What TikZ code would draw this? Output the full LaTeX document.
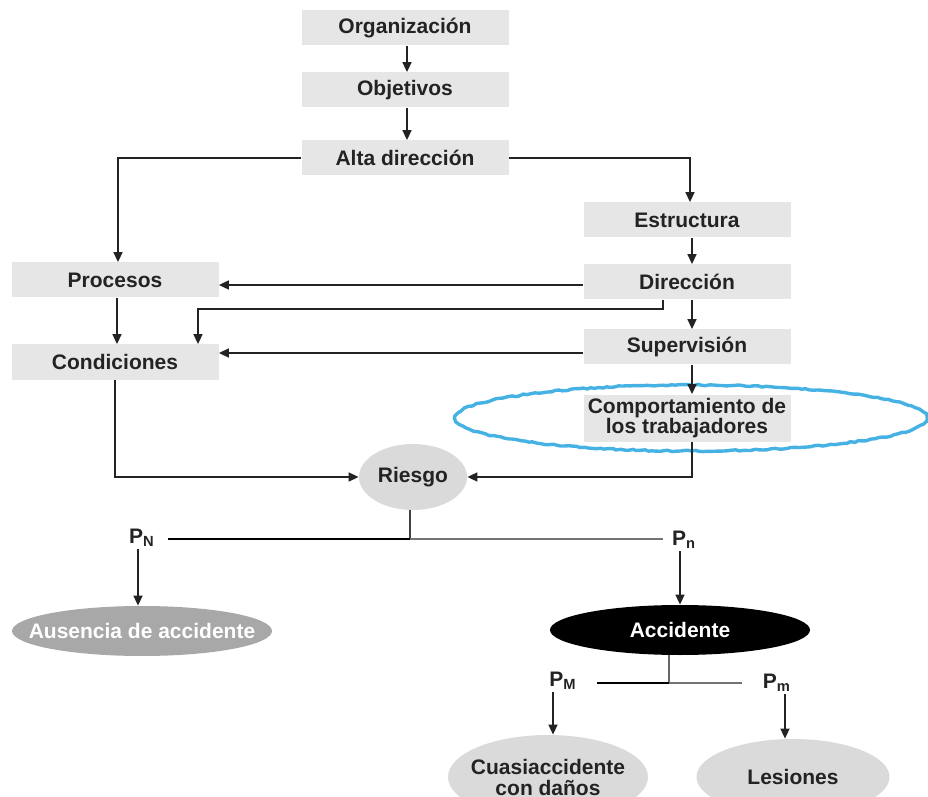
\documentclass[tikz,border=0pt]{standalone}
\usepackage{fontspec}
\setmainfont{Liberation Sans}
\usepackage{xcolor}
\usetikzlibrary{positioning,arrows.meta,shapes.geometric,decorations.pathmorphing}
\definecolor{BoxGray}{RGB}{230,230,230}
\definecolor{BubbleGray}{RGB}{218,218,218}
\definecolor{DarkBubble}{RGB}{168,168,168}
\definecolor{InkGray}{RGB}{35,35,35}
\definecolor{HaloBlue}{RGB}{70,178,228}
\newcommand{\nowidth}[1]{\makebox[0pt]{#1}}
\tikzset{
  stagebox/.style={fill=BoxGray, minimum width=103.5pt, minimum height=17.5pt, inner sep=1pt,
    font=\bfseries\fontsize{10.5}{10}\selectfont, text=InkGray, align=center},
  bubble/.style={ellipse, fill=BubbleGray, inner sep=0pt, align=center,
    font=\bfseries\fontsize{10.5}{10.5}\selectfont, text=InkGray},
  darkbubble/.style={bubble, fill=DarkBubble, text=white},
  blackbubble/.style={bubble, fill=black, text=white},
  problab/.style={font=\bfseries\fontsize{10.5}{11}\selectfont, text=InkGray, inner sep=1pt},
  flow/.style={-{Triangle[length=5pt,width=4.5pt]}, line width=0.75pt, InkGray},
  stemwire/.style={line width=1pt, black!75},
  forkbold/.style={line width=1.3pt, black},
  forkthin/.style={line width=0.75pt, black!55},
  haloring/.style={draw=HaloBlue, line width=1.7pt,
    decorate, decoration={random steps, segment length=2pt, amplitude=0.35pt}},
}

\begin{document}
\begin{tikzpicture}[x=0.5pt, y=-0.5pt]
  \useasboundingbox (0,0) rectangle (928,797);
  % management chain
  \foreach \name/\txt/\y in {org/Organización/28, obj/Objetivos/90, alta/Alta dirección/158}
    \node[stagebox] (\name) at (405,\y) {\txt};
  \foreach \name/\txt/\y in {estr/Estructura/220, dir/Dirección/282, sup/Supervisión/347}
    \node[stagebox] (\name) at (687,\y) {\txt};
  \node[stagebox, minimum height=23.5pt, inner sep=0pt] (comp) at (687,418)
    {Comportamiento de\\los trabajadores};
  \draw[haloring] (691,418) ellipse [x radius=118pt, y radius=16.5pt];
  \node[stagebox] (proc) at (115,280) {Procesos};
  \node[stagebox] (cond) at (115,362) {Condiciones};
  % outcomes
  \node[bubble, minimum width=54pt, minimum height=33pt] (risk) at (413,477) {Riesgo};
  \node[darkbubble, minimum width=130pt, minimum height=25pt] (none) at (142,631)
    {\nowidth{Ausencia de accidente}};
  \node[blackbubble, minimum width=130pt, minimum height=25pt] (acc) at (680,630) {Accidente};
  \node[bubble, minimum width=100pt, minimum height=42pt] (cuasi) at (548,777)
    {\nowidth{Cuasiaccidente}\\\nowidth{con daños}};
  \node[bubble, minimum width=96.5pt, minimum height=38pt] (lesion) at (793,777) {Lesiones};
  \node[problab] (pN) at (142,538) {P\textsubscript{N}};
  \node[problab] (pn) at (684,540) {P\textsubscript{n}};
  \node[problab] (pM) at (563,681) {P\textsubscript{M}};
  \node[problab] (pm) at (777,683) {P\textsubscript{m}};
  \coordinate (rfork) at (410,539);
  \coordinate (nend) at (168,539);
  \coordinate (nstart) at (663,539);
  \coordinate (afork) at (669,683);
  \coordinate (mleft) at (597,683);
  \coordinate (mright) at (742,683);
  % arrows
  \foreach \a/\b in {org/obj, obj/alta}
    \draw[flow] ([xshift=1pt]\a.south) -- ([xshift=1pt]\b.north);
  \foreach \a/\b in {estr/dir, dir/sup, sup/comp}
    \draw[flow] ([xshift=2.5pt]\a.south) -- ([xshift=2.5pt]\b.north);
  \draw[flow] (alta.west) -| ([xshift=1.5pt]proc.north);
  \draw[flow] (alta.east) -| ([xshift=1.5pt]estr.north);
  \draw[flow] ([yshift=-1.5pt]dir.west) -- ([yshift=-1.5pt]dir.west -| proc.east);
  \draw[flow] ([xshift=-12pt]dir.south) -- ++(0,9) -| ([xshift=41.5pt]cond.north);
  \draw[flow] ([yshift=-3pt]sup.west) -- ([yshift=-3pt]sup.west -| cond.east);
  \draw[flow] ([xshift=1pt]proc.south) -- ([xshift=1pt]cond.north);
  \draw[flow] (cond.south) |- (risk.west);
  \draw[flow] ([xshift=2.5pt]comp.south) |- (risk.east);
  % branching
  \draw[stemwire] (rfork |- risk.south) -- (rfork);
  \draw[forkbold] (nend) -- (rfork);
  \draw[forkthin] (rfork) -- (nstart);
  \draw[flow] ([xshift=-2pt]pN.south) -- ([xshift=-2pt]pN.south |- none.north);
  \draw[flow] ([xshift=-2pt]pn.south) -- ([xshift=-2pt]pn.south |- acc.north);
  \draw[stemwire, black!60] (afork |- acc.south) -- (afork);
  \draw[forkbold] (mleft) -- (afork);
  \draw[forkthin] (afork) -- (mright);
  \draw[flow] ([xshift=-5pt]pM.south) -- ([xshift=-5pt]pM.south |- cuasi.north);
  \draw[flow] ([xshift=4pt]pm.south) -- ([xshift=4pt]pm.south |- lesion.north);
\end{tikzpicture}
\end{document}
